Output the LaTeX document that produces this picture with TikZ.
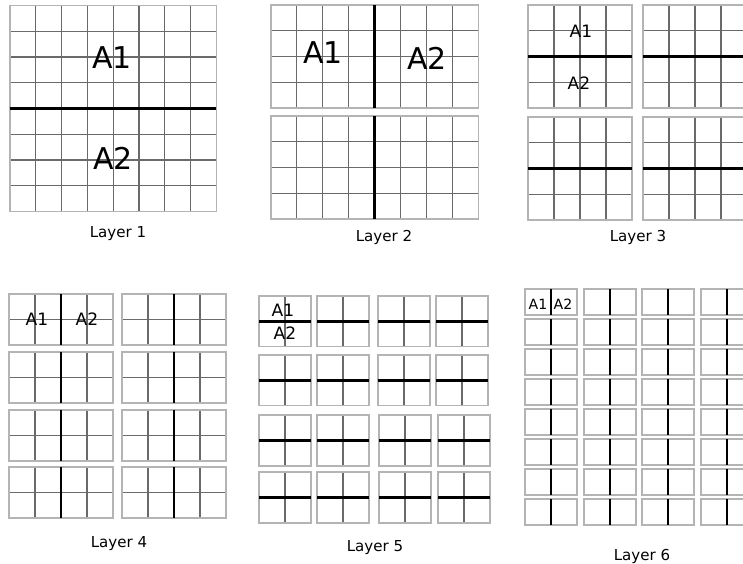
\documentclass[tikz,border=0pt]{standalone}
\usepackage{fontspec}
\setmainfont{DejaVu Sans}
\definecolor{innergray}{HTML}{6A6A6A}
\definecolor{bordergray}{HTML}{B4B4B4}
\tikzset{
  gline/.style={draw=innergray, line width=0.8pt},
  gborder/.style={draw=bordergray, line width=1pt},
  split/.style={draw=black, line width=2.2pt},
  biglab/.style={inner sep=0pt, font=\fontsize{22.5}{22.5}\selectfont},
  midlab/.style={inner sep=0pt, font=\fontsize{12.8}{12.8}\selectfont},
  smalllab/.style={inner sep=0pt, font=\fontsize{10.6}{10.6}\selectfont},
  layerlab/.style={inner sep=0pt, anchor=base, font=\fontsize{11.3}{11.3}\selectfont},
}
% x0, y0, cols, rows, cell width, cell height
\newcommand{\gblock}[6]{%
  \foreach \i in {0,...,#3} \draw[gline] ({#1+\i*#5},#2) -- ++(0,{#4*#6});
  \foreach \j in {0,...,#4} \draw[gline] (#1,{#2+\j*#6}) -- ++({#3*#5},0);
  \draw[gborder] (#1,#2) rectangle ++({#3*#5},{#4*#6});
}
\newcommand{\ghsplitblock}[6]{\gblock{#1}{#2}{#3}{#4}{#5}{#6}%
  \draw[split] (#1,{#2+#4*#6/2}) -- ++({#3*#5},0);}
\newcommand{\gvsplitblock}[6]{\gblock{#1}{#2}{#3}{#4}{#5}{#6}%
  \draw[split] ({#1+#3*#5/2},#2) -- ++(0,{#4*#6});}
\begin{document}
\begin{tikzpicture}[x=0.75pt,y=-0.75pt]
\useasboundingbox (0,0) rectangle (743,564);
\clip (0,0) rectangle (743,564);
% Layer 1
\ghsplitblock{10}{5.5}{8}{8}{25.8}{25.75}
\node[biglab] (l1a1) at (112,58) {A1};
\node[biglab] (l1a2) at (113,158) {A2};
\node[layerlab] (lay1) at (118,237) {Layer 1};
% Layer 2
\gvsplitblock{271}{5}{8}{4}{25.9}{25.75}
\gvsplitblock{271}{116}{8}{4}{25.9}{25.75}
\node[biglab] (l2a1) at (323,53) {A1};
\node[biglab] (l2a2) at (427,58) {A2};
\node[layerlab] (lay2) at (384,241) {Layer 2};
% Layer 3
\foreach \bx in {528,643} {
  \ghsplitblock{\bx}{5}{4}{4}{26}{25.75}
  \ghsplitblock{\bx}{117}{4}{4}{26}{25.75}
}
\node[midlab] (l3a1) at (581,31) {A1};
\node[midlab] (l3a2) at (579,83) {A2};
\node[layerlab] (lay3) at (638,241) {Layer 3};
% Layer 4
\foreach \by in {294,352,410,467} {
  \gvsplitblock{9}{\by}{4}{2}{26}{25.5}
  \gvsplitblock{122}{\by}{4}{2}{26}{25.5}
}
\node[midlab] (l4a1) at (37,319) {A1};
\node[midlab] (l4a2) at (87,319) {A2};
\node[layerlab] (lay4) at (119,547) {Layer 4};
% Layer 5
\foreach \by in {296,355} {
  \foreach \bx in {259,317,378,436} {
    \ghsplitblock{\bx}{\by}{2}{2}{26}{25.3}
  }
}
\foreach \by in {415,472} {
  \foreach \bx in {259,317,379,438} {
    \ghsplitblock{\bx}{\by}{2}{2}{26}{25.5}
  }
}
\node[midlab] (l5a1) at (283,310) {A1};
\node[midlab] (l5a2) at (285,333) {A2};
\node[layerlab] (lay5) at (375,551) {Layer 5};
% Layer 6
\foreach \k in {0,...,7} {
  \foreach \bx in {525,584,642,701} {
    \gvsplitblock{\bx}{289+30*\k}{2}{1}{26}{26}
  }
}
\node[smalllab] (l6a1) at (538,304) {A1};
\node[smalllab] (l6a2) at (563,304) {A2};
\node[layerlab] (lay6) at (642,560) {Layer 6};
\end{tikzpicture}
\end{document}
